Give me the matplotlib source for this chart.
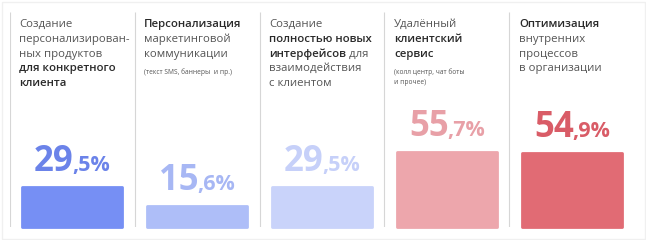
import matplotlib
matplotlib.use('Agg')
import matplotlib.pyplot as plt
from matplotlib.patches import Rectangle

# ---------------- data ----------------
values = [29.5, 15.6, 29.5, 55.7, 54.9]
bar_colors = ['#768ff4', '#aebef8', '#c9d3fa', '#eda6ac', '#e16b74']
label_colors = ['#6b83e9', '#a7b7f4', '#c6d0f9', '#e8a0a7', '#d95c67']

# header lines: each line is a list of (text, bold) segments
headers = [
    [[("Создание", False)], [("персонализирован-", False)], [("ных продуктов", False)],
     [("для конкретного", True)], [("клиента", True)]],
    [[("Персонализация", True)], [("маркетинговой", False)], [("коммуникации", False)]],
    [[("Создание", False)], [("полностью новых", True)], [("интерфейсов", True), (" для", False)],
     [("взаимодействия", False)], [("с клиентом", False)]],
    [[("Удалённый", False)], [("клиентский", True)], [("сервис", True)]],
    [[("Оптимизация", True)], [("внутренних", False)], [("процессов", False)],
     [("в организации", False)]],
]
notes = [[], ["(текст SMS, баннеры  и пр.)"], [], ["(колл центр, чат боты", "и прочее)"], []]

# ---------------- layout ----------------
W, H, DPI = 646, 240, 100
PT = 72.0 / DPI  # points per pixel
FONT = 'Open Sans'
plt.rcParams['font.family'] = [FONT, 'DejaVu Sans']

fig = plt.figure(figsize=(W / DPI, H / DPI), dpi=DPI)
fig.patch.set_facecolor('white')
fig.add_artist(Rectangle((1.5 / W, 1.5 / H), 1 - 3 / W, 1 - 3 / H, transform=fig.transFigure,
                         fill=False, edgecolor='#f0f0f0', linewidth=1.0))

ax = fig.add_axes([9.5 / W, 13 / H, 625 / W, 215 / H])
px_per_pct = 1.345
ax.set_xlim(-0.5, 4.5)
ax.set_ylim(0, 215 / px_per_pct)
ax.axis('off')

n = len(values)
ax.vlines([i - 0.5 for i in range(n)], 0, 215 / px_per_pct, color='#d6d6d6', linewidth=0.8)

bars = ax.bar(range(n), values, width=0.80, color=bar_colors, edgecolor=bar_colors,
              linewidth=2.0, joinstyle='round')
for b in bars:
    b.set_clip_on(False)

# headers
line_h = 14.8
first_base = 15.0
for i, lines in enumerate(headers):
    for li, segs in enumerate(lines):
        prev = None
        for text, bold in segs:
            kw = dict(fontsize=8.2, color='#2a2a2a' if bold else '#555555',
                      fontweight='semibold' if bold else 'normal', ha='left')
            if prev is None:
                prev = ax.annotate(text, xy=(i - 0.5, 1.0), xycoords=('data', 'axes fraction'),
                                   xytext=(9.5 * PT, -(first_base + li * line_h) * PT),
                                   textcoords='offset points', va='baseline', **kw)
            else:
                prev = ax.annotate(text, xy=(1, 0), xycoords=prev, xytext=(0, 0),
                                   textcoords='offset points', va='bottom', **kw)
    for ni, note in enumerate(notes[i]):
        ax.annotate(note, xy=(i - 0.5, 1.0), xycoords=('data', 'axes fraction'),
                    xytext=(9.5 * PT, -(62.5 + ni * 9.5) * PT), textcoords='offset points',
                    fontsize=4.8, color='#555555', va='baseline', ha='left')

# value labels
gap = 16.5
big_texts, small_texts = [], []
for i, v in enumerate(values):
    ip, fp = f"{v:.1f}".split('.')
    bt = ax.annotate(ip, xy=(i, v), xytext=(0, gap * PT), textcoords='offset points',
                     fontsize=25, fontweight='bold', color=label_colors[i],
                     ha='left', va='baseline')
    st = ax.annotate(f",{fp}%", xy=(1, v), xycoords=(bt, 'data'), xytext=(-1.5 * PT, gap * PT),
                     textcoords='offset points', fontsize=15.5, fontweight='bold',
                     color=label_colors[i], ha='left', va='baseline')
    big_texts.append(bt)
    small_texts.append(st)

fig.canvas.draw()
r = fig.canvas.get_renderer()
for bt, st in zip(big_texts, small_texts):
    wb = bt.get_window_extent(r).width
    ws = st.get_window_extent(r).width
    bt.xyann = (-(wb + ws - 1.5) / 2 * PT, gap * PT)

fig.savefig('out.png', dpi=DPI, facecolor='white')
